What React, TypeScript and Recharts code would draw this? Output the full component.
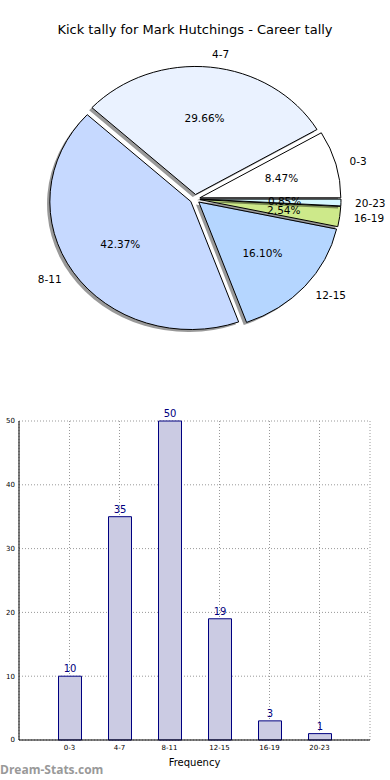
import React from 'react';
import { PieChart, Pie, Cell, Sector, BarChart, Bar, XAxis, YAxis, CartesianGrid, LabelList } from 'recharts';

const categories = ['0-3', '4-7', '8-11', '12-15', '16-19', '20-23'];
const counts = [10, 35, 50, 19, 3, 1];
const sliceColors = ['#ffffff', '#eaf2ff', '#c6d9ff', '#b5d6ff', '#cde98a', '#d4f7ff'];
const yTicks = [0, 10, 20, 30, 40, 50];

const data = categories.map((c, i) => ({ name: c, value: counts[i] }));

const KY = 0.908;
const EXPLODE = 5;
const SHADOW = 2.8;
const RAD = Math.PI / 180;
const FONT = '"DejaVu Sans", sans-serif';

function EllipseSector(props: any) {
  const { cx, cy, innerRadius, outerRadius, startAngle, endAngle, fill } = props;
  const mid = (startAngle + endAngle) / 2;
  const dx = EXPLODE * Math.cos(mid * RAD);
  const dy = -EXPLODE * Math.sin(mid * RAD);
  return (
    <g transform={`translate(${cx} ${cy}) scale(1 ${KY}) translate(${-cx} ${-cy})`}>
      <g transform={`translate(${dx} ${dy})`}>
        <g transform={`translate(${-SHADOW} ${SHADOW})`}>
          <Sector cx={cx} cy={cy} innerRadius={innerRadius} outerRadius={outerRadius}
            startAngle={startAngle} endAngle={endAngle} fill="#000" fillOpacity={0.4} stroke="none" />
        </g>
        <Sector cx={cx} cy={cy} innerRadius={innerRadius} outerRadius={outerRadius}
          startAngle={startAngle} endAngle={endAngle} fill={fill} stroke="#000" strokeWidth={1}
          vectorEffect="non-scaling-stroke" />
      </g>
    </g>
  );
}

const renderLabel = (p: any) => {
  const { cx, cy, midAngle, outerRadius, percent, name } = p;
  const c = Math.cos(midAngle * RAD);
  const s = Math.sin(midAngle * RAD);
  const ex = EXPLODE * c;
  const ey = EXPLODE * s;
  const ox = cx + ex + 1.1 * outerRadius * c;
  const oy = cy - KY * (ey + 1.1 * outerRadius * s);
  const ix = cx + ex + 0.6 * outerRadius * c;
  const iy = cy - KY * (ey + 0.6 * outerRadius * s);
  return (
    <g>
      <text x={ox} y={oy} textAnchor={c > 0 ? 'start' : 'end'} dominantBaseline="central"
        fontSize={10.5} fontFamily={FONT} fill="#000">{name}</text>
      <text x={ix} y={iy} textAnchor="middle" dominantBaseline="central"
        fontSize={10.5} fontFamily={FONT} fill="#000">{(percent * 100).toFixed(2)}%</text>
    </g>
  );
};

export default function App() {
  return (
    <div style={{ position: 'absolute', left: 0, top: 0, width: 390, height: 780, background: '#fff', fontFamily: FONT }}>
      <div style={{ position: 'absolute', top: 22, left: 0, width: 390, textAlign: 'center', fontSize: 13, lineHeight: '15px', color: '#000' }}>
        Kick tally for Mark Hutchings - Career tally
      </div>
      <div style={{ position: 'absolute', top: 0, left: 0 }}>
        <PieChart width={390} height={400} margin={{ top: 0, right: 0, bottom: 0, left: 0 }}>
          <Pie data={data} dataKey="value" nameKey="name" cx={195} cy={199} outerRadius={141}
            startAngle={0} endAngle={360} isAnimationActive={false} shape={EllipseSector}
            label={renderLabel} labelLine={false} stroke="#000">
            {data.map((d, i) => (
              <Cell key={d.name} fill={sliceColors[i]} />
            ))}
          </Pie>
        </PieChart>
      </div>
      <div style={{ position: 'absolute', top: 400, left: 0 }}>
        <BarChart width={390} height={380} data={data} margin={{ top: 21, right: 20, bottom: 0, left: 0 }}>
          <CartesianGrid stroke="#999" strokeDasharray="1 2" />
          <XAxis dataKey="name" padding={{ left: 25.5, right: 25.5 }} height={40} tickLine={false}
            axisLine={{ stroke: '#000' }} tick={{ fontSize: 7, fill: '#000', fontFamily: FONT }} tickSize={0} tickMargin={5}
            interval={0}
            label={{ value: 'Frequency', position: 'insideBottom', offset: 14, fontSize: 10, fill: '#000', fontFamily: FONT }} />
          <XAxis xAxisId="top" orientation="top" dataKey="name" height={0} tick={false} tickLine={false}
            axisLine={{ stroke: '#000' }} padding={{ left: 25.5, right: 25.5 }} />
          <YAxis domain={[0, 50]} ticks={yTicks} width={19} tickSize={0} tickMargin={4} tickLine={false}
            tick={{ fontSize: 7, fill: '#000', fontFamily: FONT }} axisLine={{ stroke: '#000' }} interval={0} />
          <YAxis yAxisId="right" orientation="right" width={0} tick={false} tickLine={false}
            axisLine={{ stroke: '#000' }} domain={[0, 50]} />
          <Bar dataKey="value" fill="#cbcbe3" stroke="#000080" strokeWidth={1} barSize={23} isAnimationActive={false}>
            <LabelList dataKey="value" position="top" offset={4} fontSize={10} fill="#000080" fontFamily={FONT} />
          </Bar>
        </BarChart>
      </div>
      <div style={{ position: 'absolute', top: 762, left: 0, fontSize: 12, fontWeight: 700, color: '#999', fontFamily: '"Open Sans", sans-serif', lineHeight: '16px' }}>
        Dream-Stats.com
      </div>
    </div>
  );
}
